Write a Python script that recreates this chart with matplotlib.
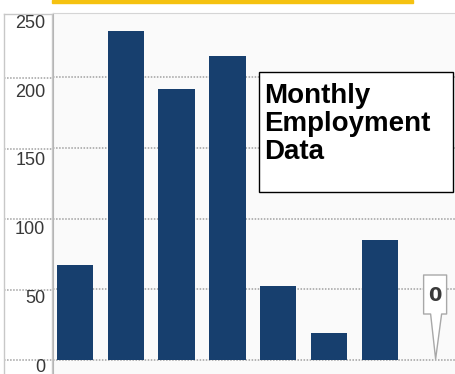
import matplotlib.pyplot as plt
from matplotlib.patches import Rectangle, Polygon
from matplotlib import transforms

# --- data ---
months = ['M1', 'M2', 'M3', 'M4', 'M5', 'M6', 'M7', 'M8']
jobs = [67, 233, 192, 215, 52, 19, 85, 0]
yticks = [0, 50, 100, 150, 200, 250]
title_text = 'Monthly\nEmployment\nData'

W, H = 455, 374
fig = plt.figure(figsize=(W / 100, H / 100), dpi=100)
fig.patch.set_facecolor('white')

def px_box(x0, y0, x1, y1):
    # pixel box (top-left origin) -> figure fractions
    return [x0 / W, 1 - y1 / H, (x1 - x0) / W, (y1 - y0) / H]

ylo, yhi = -9.9, 245.4
grid_kw = dict(color='#a0a0a0', lw=1.1, ls=(0, (1, 1)))

# left label column
axl = fig.add_axes(px_box(4, 14, 52, 374))
axl.set_xlim(0, 1)
axl.set_ylim(ylo, yhi)
axl.set_facecolor('white')
for s in axl.spines.values():
    s.set_color('#c8c8c8')
    s.set_linewidth(1)
axl.spines['bottom'].set_visible(False)
axl.set_xticks([])
axl.set_yticks([])
for v in yticks:
    if v < yhi:
        axl.axhline(v, **grid_kw)
    off = transforms.ScaledTranslation(0, -(7 + v / 250 * 9) / 100, fig.dpi_scale_trans)
    axl.text(0.86, v, str(v), transform=axl.transData + off, ha='right', va='center',
             fontsize=13, color='#383838', family='Liberation Sans', clip_on=False)

# main plot area
ax = fig.add_axes(px_box(53, 13, 455, 374))
ax.set_facecolor('#fafafa')
ax.set_xlim(-0.433, 7.48)
ax.set_ylim(ylo, yhi)
for v in yticks:
    ax.axhline(v, zorder=0, **grid_kw)
x = list(range(len(months)))
ax.bar(x, jobs, width=0.72, color='#173f6e', zorder=2)
ax.set_xticks([])
ax.set_yticks([])
for s in ['right', 'bottom']:
    ax.spines[s].set_visible(False)
ax.spines['left'].set_color('#b5b5b5')
ax.spines['top'].set_color('#d5d5d5')

# callout on the last (zero) bar, outline drawn in pixel offsets from the point
ptrans = (transforms.Affine2D().scale(0.01) + fig.dpi_scale_trans
          + transforms.ScaledTranslation(x[-1], jobs[-1], ax.transData))
outline = [(-7, 85), (16, 85), (16, 46), (11, 46), (5, 1), (0, 46), (-7, 46)]
ax.add_patch(Polygon(outline, closed=True, transform=ptrans, fc='white', ec='#a8a8a8',
                     lw=1, joinstyle='round', zorder=5, clip_on=False))
ax.text(4.5, 65, str(jobs[-1]), transform=ptrans, ha='center', va='center', fontsize=14,
        fontweight='bold', color='#3a3a3a', family='Liberation Sans Narrow', zorder=6)

# yellow bar on top
fig.patches.append(Rectangle((52 / W, 1 - 3 / H), (413 - 52) / W, 3 / H,
                             transform=fig.transFigure, color='#f5c211', zorder=5))

# text box
bx = px_box(259, 72, 453, 192)
fig.patches.append(Rectangle((bx[0], bx[1]), bx[2], bx[3], transform=fig.transFigure,
                             fc='white', ec='black', lw=1, zorder=6))
fig.text(264 / W, 1 - 83 / H, title_text, ha='left', va='top', fontsize=20,
         fontweight='bold', family='Liberation Sans', linespacing=1.1, zorder=7)

fig.savefig('out.png', dpi=100)
